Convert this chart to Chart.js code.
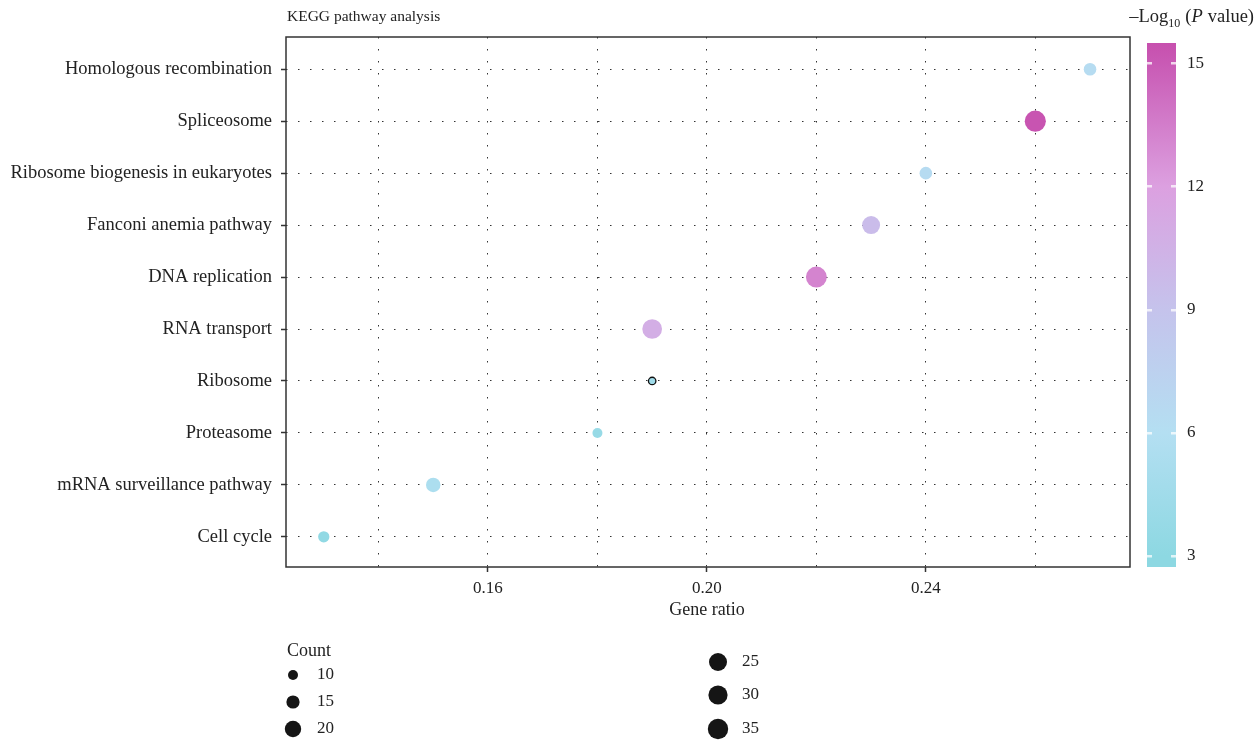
<!DOCTYPE html>
<html>
<head>
<meta charset="utf-8">
<script src="https://cdn.jsdelivr.net/npm/chart.js@4"></script>
<style>
  html, body { margin: 0; padding: 0; background: #fff; }
  #c { display: block; }
</style>
</head>
<body>
<canvas id="c" width="1259" height="741"></canvas>
<script>
// KEGG pathways (top to bottom)
const categories = [
  'Homologous recombination',
  'Spliceosome',
  'Ribosome biogenesis in eukaryotes',
  'Fanconi anemia pathway',
  'DNA replication',
  'RNA transport',
  'Ribosome',
  'Proteasome',
  'mRNA surveillance pathway',
  'Cell cycle'
];
const geneRatio = [0.27, 0.26, 0.24, 0.23, 0.22, 0.19, 0.19, 0.18, 0.15, 0.13];
const geneCount = [14, 38, 14, 25, 37, 32, 6, 10, 17, 12];
const negLogP = [6.3, 15.3, 6.4, 9.6, 13.2, 10.8, 4.4, 3.8, 5.4, 3.3];

// axis and legend labels
const xTickLabels = [0.16, 0.20, 0.24];
const xGridValues = [0.14, 0.16, 0.18, 0.20, 0.22, 0.24, 0.26];
const colorTicks = [3, 6, 9, 12, 15];
const countLegend = [10, 15, 20, 25, 30, 35];
const countRadius = [5.0, 6.6, 8.2, 9.0, 9.6, 10.2];

// points drawn with a dark outline
const outlined = ['Ribosome'];

const FONT = "'Liberation Serif', 'Times New Roman', serif";
const TEXT = '#222';

// colour scale for -log10(P)
const colorStops = [
  [2.7, [141, 216, 226]],
  [3, [141, 216, 226]],
  [6, [180, 223, 242]],
  [9, [197, 195, 236]],
  [12, [220, 160, 224]],
  [15, [201, 90, 181]],
  [15.5, [199, 80, 174]]
];
function colorFor(v) {
  if (v <= colorStops[0][0]) return rgb(colorStops[0][1]);
  for (let i = 1; i < colorStops.length; i++) {
    const [v1, c1] = colorStops[i];
    const [v0, c0] = colorStops[i - 1];
    if (v <= v1) {
      const t = (v - v0) / (v1 - v0);
      return rgb(c0.map((c, k) => c + (c1[k] - c) * t));
    }
  }
  return rgb(colorStops[colorStops.length - 1][1]);
}
function rgb(c) { return 'rgb(' + c.map(Math.round).join(',') + ')'; }

// bubble radius from gene count
function radiusFor(n) {
  if (n <= countLegend[0]) {
    const s = (countRadius[1] - countRadius[0]) / (countLegend[1] - countLegend[0]);
    return countRadius[0] - (countLegend[0] - n) * s;
  }
  for (let i = 1; i < countLegend.length; i++) {
    if (n <= countLegend[i]) {
      const t = (n - countLegend[i - 1]) / (countLegend[i] - countLegend[i - 1]);
      return countRadius[i - 1] + (countRadius[i] - countRadius[i - 1]) * t;
    }
  }
  const L = countLegend.length;
  const s = (countRadius[L - 1] - countRadius[L - 2]) / (countLegend[L - 1] - countLegend[L - 2]);
  return countRadius[L - 1] + (n - countLegend[L - 1]) * s;
}

const points = categories.map((name, i) => ({ x: geneRatio[i], y: i, r: radiusFor(geneCount[i]) }));

const colorbar = { x: 1147, w: 29, top: 43, bottom: 567, vMin: 2.73, vMax: 15.49 };

const decorations = {
  id: 'decorations',
  afterDatasetsDraw(chart) {
    const { ctx, chartArea: a } = chart;
    ctx.save();
    // frame round the plotting area
    ctx.strokeStyle = '#333';
    ctx.lineWidth = 1.5;
    ctx.strokeRect(a.left, a.top, a.right - a.left, a.bottom - a.top);

    ctx.fillStyle = TEXT;
    ctx.textBaseline = 'middle';
    // title
    ctx.font = '15.5px ' + FONT;
    ctx.textAlign = 'left';
    ctx.fillText('KEGG pathway analysis', 287, 17);
    // x axis title
    ctx.font = '18px ' + FONT;
    ctx.textAlign = 'center';
    ctx.fillText('Gene ratio', (a.left + a.right) / 2 - 1, 610);

    // colour bar
    const cb = colorbar;
    const yOf = v => cb.bottom - (v - cb.vMin) / (cb.vMax - cb.vMin) * (cb.bottom - cb.top);
    const g = ctx.createLinearGradient(0, cb.bottom, 0, cb.top);
    colorStops.forEach(([v, c]) => {
      const f = (v - cb.vMin) / (cb.vMax - cb.vMin);
      g.addColorStop(Math.min(1, Math.max(0, f)), rgb(c));
    });
    ctx.fillStyle = g;
    ctx.fillRect(cb.x, cb.top, cb.w, cb.bottom - cb.top);
    ctx.fillStyle = 'rgba(255,255,255,0.75)';
    colorTicks.forEach(v => {
      const y = Math.round(yOf(v));
      ctx.fillRect(cb.x, y - 1, 5, 2.5);
      ctx.fillRect(cb.x + cb.w - 5, y - 1, 5, 2.5);
    });
    ctx.fillStyle = TEXT;
    ctx.textAlign = 'left';
    ctx.font = '17px ' + FONT;
    colorTicks.forEach(v => ctx.fillText(String(v), cb.x + 40, yOf(v)));
    // colour bar title: −Log10 (P value), right-aligned to the page edge
    const parts = [
      ['\u2013Log', '18.5px ', 17, 0],
      ['10', '12px ', 24, 5],
      ['(', '18.5px ', 17, 0],
      ['P', 'italic 18.5px ', 17, 5],
      ['value)', '18.5px ', 17, 0]
    ];
    let total = 0;
    parts.forEach(([t, f, , gap]) => { ctx.font = f + FONT; total += ctx.measureText(t).width + gap; });
    let tx = 1254 - total;
    parts.forEach(([t, f, y, gap]) => {
      ctx.font = f + FONT;
      ctx.fillText(t, tx, y);
      tx += ctx.measureText(t).width + gap;
    });

    // count legend
    ctx.font = '18px ' + FONT;
    ctx.fillText('Count', 287, 651);
    const cols = [
      { x: 293, ys: [675, 702, 729] },
      { x: 718, ys: [662, 695, 729] }
    ];
    let k = 0;
    ctx.font = '17px ' + FONT;
    cols.forEach(col => col.ys.forEach(y => {
      const n = countLegend[k++];
      ctx.fillStyle = '#151515';
      ctx.beginPath();
      ctx.arc(col.x, y, radiusFor(n), 0, Math.PI * 2);
      ctx.fill();
      ctx.fillStyle = TEXT;
      ctx.fillText(String(n), col.x + 24, y);
    }));
    ctx.restore();
  }
};

const dotted = [1.5, 10.5];

new Chart(document.getElementById('c'), {
  type: 'bubble',
  data: {
    datasets: [{
      data: points,
      backgroundColor: negLogP.map(colorFor),
      borderColor: categories.map(c => outlined.includes(c) ? '#111' : 'rgba(0,0,0,0)'),
      borderWidth: categories.map(c => outlined.includes(c) ? 1.3 : 0),
      hoverBorderWidth: 0
    }]
  },
  options: {
    responsive: false,
    animation: false,
    devicePixelRatio: 1,
    layout: { padding: { left: 0, top: 37, right: 129, bottom: 120 } },
    plugins: { legend: { display: false }, tooltip: { enabled: false } },
    scales: {
      x: {
        type: 'linear',
        min: 0.1231,
        max: 0.2773,
        afterBuildTicks: s => { s.ticks = xGridValues.map(v => ({ value: v })); },
        afterFit: s => { s.height = 54; },
        ticks: {
          font: { family: FONT, size: 17 },
          color: TEXT,
          padding: 6,
          maxRotation: 0,
          callback: v => xTickLabels.some(t => Math.abs(t - v) < 1e-9) ? v.toFixed(2) : ''
        },
        grid: {
          color: '#333',
          lineWidth: 1,
          tickLength: 5,
          tickColor: ctx => xTickLabels.some(t => Math.abs(t - ctx.tick.value) < 1e-9) ? '#333' : 'rgba(0,0,0,0)',
          tickWidth: 1.5,
          tickBorderDash: []
        },
        border: { display: false, dash: dotted }
      },
      y: {
        type: 'linear',
        reverse: true,
        min: -0.62,
        max: 9.58,
        afterBuildTicks: s => { s.ticks = categories.map((c, i) => ({ value: i })); },
        afterFit: s => { s.width = 286; },
        ticks: {
          font: { family: FONT, size: 18.5 },
          color: TEXT,
          padding: 9,
          callback: v => categories[v]
        },
        grid: {
          color: '#333',
          lineWidth: 1,
          tickLength: 5,
          tickColor: '#333',
          tickWidth: 1.5,
          tickBorderDash: []
        },
        border: { display: false, dash: dotted }
      }
    }
  },
  plugins: [decorations]
});
</script>
</body>
</html>
